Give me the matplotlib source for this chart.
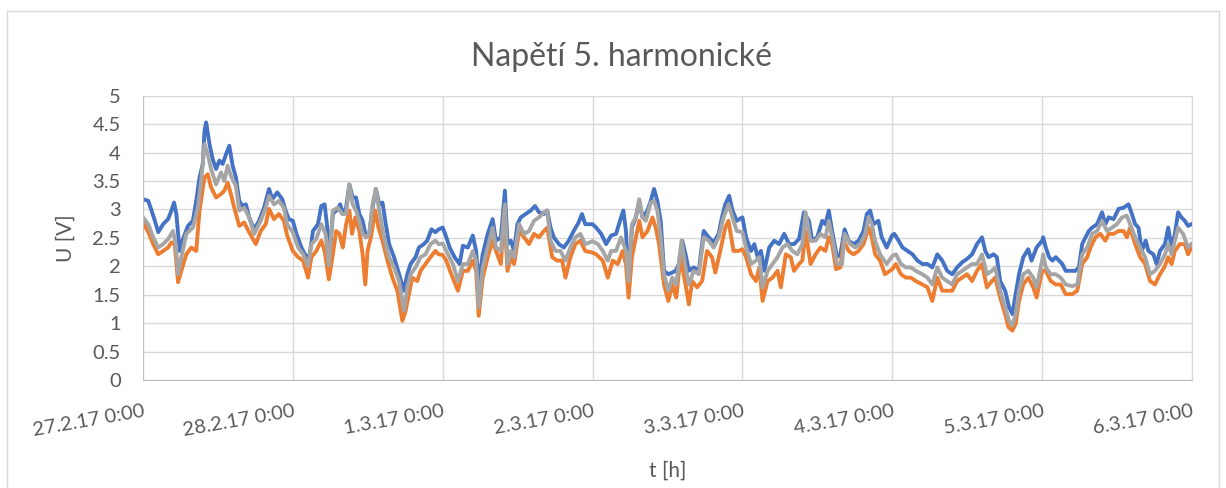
#Napětí 5. harmonické - průběh za týden
import matplotlib.pyplot as plt
from matplotlib.patches import Rectangle

# časy v hodinách od 27.2.17 0:00 a hodnoty napětí [V]
t_blue = [0, 0.85, 1.38, 1.91, 2.44, 3.23, 4.03, 4.56, 4.98, 5.35, 5.88, 6.41, 7.21, 8.0, 8.53, 9.06, 9.59, 9.85, 10.12, 10.65,
          11.18, 11.71, 12.24, 12.77, 13.3, 13.83, 14.36, 14.89, 15.42, 15.95, 16.48, 17.01, 17.8, 18.6, 19.39, 20.19, 20.72, 21.51, 22.3, 22.83, 23.36,
          24, 24.58, 25.38, 26.17, 26.7, 27.23, 28.03, 28.56, 29.09, 29.46, 29.88, 30.41, 31.21, 31.58, 32.0, 32.53, 33.06, 33.59, 34.12, 34.65,
          35.18, 35.71, 36.24, 36.77, 37.3, 37.83, 38.36, 38.89, 39.42, 40.21, 41.01, 41.8, 42.33, 42.86, 43.66, 44.19, 44.98, 45.51, 46.2, 46.83, 47.36,
          48, 48.58, 49.11, 49.91, 50.7, 51.23, 52.03, 52.82, 53.35, 53.77, 54.41, 55.21, 56.0, 56.53, 57.32, 57.96, 58.38, 58.91, 59.44, 59.97,
          60.5, 61.3, 62.09, 62.78, 63.42, 64.21, 64.74, 65.27, 65.8, 66.6, 67.39, 68.19, 68.98, 69.77, 70.3, 70.83,
          72, 72.58, 73.38, 74.17, 74.97, 75.76, 76.56, 76.93, 77.35, 77.77, 78.3, 78.94, 79.47, 80.0, 80.79, 81.32, 81.85, 82.38, 82.91, 83.44,
          84.13, 84.77, 85.3, 85.83, 86.36, 86.89, 87.42, 88.21, 89.01, 89.8, 90.6, 91.39, 92.19, 92.72, 93.25, 93.88, 94.41, 95.1,
          96, 96.58, 97.38, 97.91, 98.44, 98.97, 99.5, 100.29, 101.09, 101.88, 102.68, 103.47, 104.26, 105.06, 105.85, 106.65, 107.18, 107.97,
          108.77, 109.3, 109.83, 110.36, 111.15, 111.68, 112.37, 113.01, 113.8, 114.6, 115.39, 115.92, 116.45, 116.98, 117.77, 118.3, 119.1,
          120, 120.32, 120.85, 121.64, 122.44, 123.23, 124.03, 124.82, 125.62, 126.41, 127.21, 128.0, 128.79, 129.59, 130.38, 131.18, 131.97,
          132.77, 133.56, 134.36, 134.89, 135.42, 136.21, 136.74, 137.27, 138.07, 138.7, 139.23, 139.66, 140.29, 140.98, 141.77, 142.3, 143.1,
          144, 144.16, 144.58, 145.11, 145.64, 146.17, 146.7, 147.23, 147.76, 148.56, 149.35, 149.88, 150.41, 150.94, 151.47, 152.0, 152.79,
          153.59, 154.12, 154.65, 155.44, 156.24, 157.03, 157.83, 158.36, 158.89, 159.42, 159.95, 160.58, 161.01, 161.8, 162.33, 162.86,
          163.66, 164.19, 164.72, 165.25, 165.77, 166.3, 166.83, 167.36, 167.89]
u_blue = [3.18, 3.15, 2.98, 2.80, 2.60, 2.74, 2.83, 2.98, 3.12, 2.92, 2.27, 2.48, 2.71, 2.80, 3.15, 3.56, 3.80, 4.38, 4.53, 4.15,
          3.88, 3.71, 3.86, 3.80, 3.97, 4.12, 3.77, 3.56, 3.15, 3.06, 3.09, 2.86, 2.65, 2.80, 3.03, 3.36, 3.18, 3.30, 3.18, 2.98, 2.83,
          2.80, 2.57, 2.33, 2.16, 2.21, 2.62, 2.74, 3.06, 3.09, 2.74, 2.16, 2.92, 3.01, 3.09, 2.92, 3.03, 3.44, 3.21, 3.21, 2.92,
          2.80, 2.51, 2.57, 3.03, 3.36, 3.09, 3.12, 2.74, 2.39, 2.16, 1.86, 1.57, 1.86, 2.04, 2.16, 2.33, 2.39, 2.45, 2.65, 2.60, 2.65,
          2.68, 2.51, 2.33, 2.16, 2.04, 2.36, 2.33, 2.54, 2.27, 1.69, 2.21, 2.57, 2.83, 2.45, 2.51, 3.33, 2.39, 2.45, 2.27, 2.74,
          2.86, 2.92, 2.98, 3.06, 2.95, 2.92, 2.98, 2.68, 2.51, 2.39, 2.33, 2.45, 2.62, 2.77, 2.92, 2.74,
          2.74, 2.68, 2.57, 2.39, 2.54, 2.57, 2.86, 2.98, 2.62, 1.69, 2.68, 2.86, 3.15, 2.86, 2.98, 3.15, 3.36, 3.15, 2.80, 1.92,
          1.86, 1.89, 1.92, 2.04, 2.45, 2.21, 1.92, 1.98, 1.92, 2.62, 2.51, 2.42, 2.57, 2.86, 3.09, 3.24, 2.98, 2.80,
          2.86, 2.51, 2.27, 2.39, 2.16, 2.27, 1.92, 2.33, 2.45, 2.39, 2.57, 2.39, 2.39, 2.48, 2.95, 2.80, 2.45, 2.51,
          2.80, 2.74, 2.98, 2.62, 2.16, 2.21, 2.65, 2.45, 2.39, 2.45, 2.62, 2.92, 2.98, 2.74, 2.80, 2.51, 2.33,
          2.55, 2.57, 2.48, 2.33, 2.27, 2.21, 2.10, 2.04, 2.04, 1.98, 2.21, 2.10, 1.92, 1.86, 1.98, 2.07, 2.13,
          2.21, 2.39, 2.51, 2.27, 2.16, 2.21, 2.16, 1.74, 1.57, 1.28, 1.16, 1.45, 1.86, 2.16, 2.30, 2.10, 2.33,
          2.45, 2.51, 2.33, 2.16, 2.10, 2.16, 2.10, 2.04, 1.92, 1.92, 1.92, 1.98, 2.39, 2.51, 2.62, 2.68, 2.74,
          2.95, 2.74, 2.86, 2.83, 3.01, 3.03, 3.09, 2.92, 2.74, 2.68, 2.27, 2.45, 2.27, 2.21, 2.04, 2.27,
          2.39, 2.68, 2.33, 2.57, 2.95, 2.86, 2.80, 2.71, 2.74]

t_orange = [0, 0.85, 1.64, 2.44, 3.23, 4.03, 4.56, 5.09, 5.62, 6.15, 6.94, 7.74, 8.53, 9.06, 9.85, 10.38, 10.91, 11.71, 12.5, 13.03,
            13.56, 14.09, 14.62, 15.42, 16.21, 17.01, 18.07, 18.86, 19.66, 20.19, 20.98, 21.77, 22.57, 23.1,
            24, 24.85, 25.64, 26.44, 26.97, 27.76, 28.56, 29.09, 29.77, 30.41, 30.94, 31.47, 32.0, 32.53, 33.06, 33.48, 34.01, 34.65,
            35.18, 35.6, 35.97, 36.5, 37.19, 37.72, 38.36, 39.15, 39.95, 40.74, 41.54, 42.07, 42.6, 43.13, 43.92, 44.45, 45.25, 46.04, 46.83, 47.36,
            48, 48.58, 49.38, 50.44, 51.23, 52.03, 52.82, 53.35, 53.77, 54.41, 55.21, 56.0, 56.53, 57.32, 57.85, 58.38, 58.91, 59.44,
            60.24, 61.03, 61.83, 62.62, 63.42, 64.21, 64.74, 65.54, 66.33, 67.13, 67.66, 68.45, 69.25, 70.04, 70.83,
            72, 72.58, 73.64, 74.44, 75.23, 76.03, 76.82, 77.35, 77.77, 78.3, 78.94, 79.47, 80.0, 80.79, 81.59, 82.12, 82.65, 83.44,
            84.13, 84.77, 85.4, 86.09, 86.89, 87.42, 87.95, 88.74, 89.54, 90.33, 91.13, 91.66, 92.45, 93.25, 93.77, 94.57, 95.36,
            96, 96.58, 97.38, 98.17, 98.7, 99.23, 100.03, 100.82, 101.62, 102.15, 102.94, 103.74, 104.26, 105.06, 105.59, 106.12,
            106.91, 107.71, 108.5, 109.3, 109.83, 110.36, 110.99, 111.68, 112.21, 113.01, 113.8, 114.6, 115.39, 116.19, 116.72,
            117.25, 118.04, 118.83,
            120, 120.58, 121.38, 122.17, 122.97, 123.76, 124.82, 125.62, 126.41, 127.21, 128.0, 128.79, 129.59, 130.38, 131.18,
            131.97, 132.77, 133.56, 134.36, 135.15, 135.95, 136.48, 137.27, 138.07, 138.6, 139.23, 139.76, 140.29, 140.98, 141.77,
            142.57, 143.1,
            144, 144.58, 145.38, 146.17, 146.97, 147.76, 148.82, 149.62, 150.41, 151.21, 151.74, 152.53, 153.32, 154.12, 154.65,
            155.44, 156.24, 157.03, 157.56, 158.09, 158.89, 159.68, 160.48, 161.27, 162.07, 162.86, 163.55, 164.19, 164.72, 165.25,
            166.04, 166.83, 167.36, 167.89]
u_orange = [2.77, 2.60, 2.39, 2.21, 2.27, 2.33, 2.42, 2.39, 1.72, 1.92, 2.21, 2.33, 2.27, 2.98, 3.56, 3.62, 3.39, 3.21, 3.27, 3.33,
            3.47, 3.27, 3.03, 2.71, 2.77, 2.60, 2.39, 2.62, 2.74, 3.01, 2.83, 2.92, 2.80, 2.54,
            2.27, 2.16, 2.10, 1.80, 2.16, 2.27, 2.45, 2.27, 1.77, 2.21, 2.62, 2.57, 2.33, 2.74, 2.98, 2.57, 2.86, 2.62,
            2.21, 1.68, 2.27, 2.51, 2.98, 2.68, 2.45, 2.10, 1.80, 1.57, 1.04, 1.22, 1.51, 1.80, 1.74, 1.92, 2.04, 2.16, 2.27, 2.21,
            2.20, 2.10, 1.86, 1.57, 1.92, 1.92, 2.10, 1.92, 1.13, 1.80, 2.16, 2.45, 2.27, 2.04, 2.98, 1.92, 2.16, 2.04,
            2.62, 2.51, 2.39, 2.57, 2.51, 2.62, 2.68, 2.16, 2.10, 2.10, 1.80, 2.16, 2.39, 2.45, 2.27,
            2.24, 2.21, 2.10, 1.80, 2.10, 2.04, 2.27, 2.04, 1.45, 2.16, 2.51, 2.80, 2.51, 2.62, 2.86, 2.68, 2.39, 1.68,
            1.39, 1.68, 1.45, 2.16, 1.68, 1.33, 1.74, 1.63, 1.74, 2.27, 2.16, 1.89, 2.27, 2.68, 2.80, 2.27, 2.27,
            2.30, 2.16, 1.86, 1.74, 1.98, 1.39, 1.74, 1.80, 1.92, 1.63, 2.21, 2.16, 1.92, 2.04, 2.10, 2.62,
            2.04, 2.21, 2.33, 2.27, 2.51, 2.39, 1.95, 1.98, 2.45, 2.27, 2.21, 2.27, 2.39, 2.68, 2.51,
            2.21, 2.10, 1.86,
            1.95, 2.04, 1.86, 1.80, 1.80, 1.74, 1.68, 1.63, 1.39, 1.80, 1.57, 1.57, 1.57, 1.74, 1.80,
            1.86, 1.74, 1.92, 2.04, 1.63, 1.74, 1.80, 1.45, 1.16, 0.93, 0.87, 0.99, 1.39, 1.68, 1.80,
            1.63, 1.45,
            1.92, 1.92, 1.74, 1.68, 1.68, 1.51, 1.51, 1.57, 2.04, 2.16, 2.33, 2.51, 2.57, 2.45, 2.57,
            2.57, 2.62, 2.62, 2.51, 2.68, 2.39, 2.16, 2.04, 1.74, 1.68, 1.86, 1.98, 2.16, 2.04, 2.27,
            2.39, 2.39, 2.21, 2.33]

t_gray = [0, 0.85, 1.64, 2.44, 3.23, 4.03, 4.82, 5.25, 5.62, 6.15, 6.94, 8.0, 8.79, 9.32, 9.85, 10.38, 10.91, 11.71, 12.5, 13.03,
          13.56, 14.09, 14.89, 15.42, 16.21, 17.01, 17.8, 18.86, 19.66, 20.19, 20.98, 21.77, 22.57, 23.1,
          24, 24.85, 25.64, 26.44, 26.97, 27.76, 28.56, 29.25, 29.77, 30.41, 31.21, 31.9, 32.53, 33.06, 33.59, 34.12, 34.65,
          35.18, 35.71, 36.24, 36.77, 37.3, 37.83, 38.62, 39.42, 40.21, 41.01, 41.8, 42.33, 42.86, 43.66, 44.45, 45.25, 46.04, 46.83, 47.36,
          48, 48.85, 49.64, 50.44, 51.23, 52.03, 52.82, 53.35, 53.77, 54.41, 55.21, 56.0, 56.53, 57.32, 57.96, 58.38, 58.91, 59.44,
          60.24, 61.03, 61.83, 62.62, 63.42, 64.21, 64.74, 65.27, 66.07, 66.86, 67.66, 68.45, 69.25, 70.04, 70.83,
          72, 72.85, 73.64, 74.44, 74.97, 75.76, 76.56, 77.35, 77.77, 78.3, 78.94, 79.47, 80.0, 80.53, 81.32, 81.85, 82.38, 82.91,
          83.44, 84.13, 84.77, 85.4, 86.25, 86.89, 87.42, 88.21, 89.01, 89.8, 90.6, 91.39, 92.19, 92.98, 93.77, 94.41, 95.1,
          96, 96.58, 97.38, 98.17, 98.7, 99.23, 100.03, 100.82, 101.62, 102.41, 103.21, 104.0, 104.79, 105.59, 106.12, 106.91,
          107.71, 108.5, 109.3, 109.83, 110.36, 111.15, 111.95, 112.37, 113.27, 114.07, 114.86, 115.66, 116.19, 116.72, 117.25,
          118.04, 119.1,
          120, 120.58, 121.38, 122.17, 122.97, 123.76, 124.82, 125.62, 126.41, 127.21, 128.0, 128.79, 129.59, 130.38, 131.18,
          131.97, 132.77, 133.56, 134.36, 135.15, 135.95, 136.48, 137.27, 138.07, 138.7, 139.23, 139.76, 140.29, 140.98, 141.77,
          142.57, 143.1,
          144, 144.16, 144.58, 145.38, 146.17, 146.97, 147.76, 148.82, 149.62, 150.41, 151.21, 152.0, 152.79, 153.59, 154.38,
          155.18, 155.97, 156.77, 157.56, 158.09, 158.89, 159.68, 160.48, 161.27, 162.07, 162.86, 163.66, 164.19, 164.72, 165.25,
          165.77, 166.57, 167.36, 167.89]
u_gray = [2.86, 2.74, 2.51, 2.33, 2.39, 2.48, 2.62, 2.39, 1.86, 2.16, 2.57, 2.68, 3.03, 3.50, 4.15, 3.97, 3.71, 3.44, 3.65, 3.50,
          3.77, 3.59, 3.41, 2.98, 3.03, 2.86, 2.57, 2.80, 3.03, 3.24, 3.09, 3.15, 3.03, 2.74,
          2.60, 2.33, 2.21, 2.01, 2.39, 2.48, 2.74, 2.57, 2.01, 2.98, 3.03, 2.92, 2.92, 3.44, 3.09, 2.98, 2.80,
          2.57, 2.51, 2.57, 3.09, 3.36, 2.98, 2.51, 2.16, 1.98, 1.74, 1.22, 1.63, 1.86, 1.98, 2.16, 2.21, 2.39, 2.45, 2.39,
          2.40, 2.21, 2.04, 1.74, 2.04, 2.04, 2.27, 2.10, 1.28, 1.98, 2.33, 2.68, 2.33, 2.27, 3.09, 2.04, 2.27, 2.16,
          2.74, 2.57, 2.62, 2.80, 2.86, 2.95, 2.98, 2.45, 2.27, 2.27, 2.10, 2.33, 2.51, 2.57, 2.39,
          2.44, 2.39, 2.27, 2.10, 2.27, 2.27, 2.51, 2.27, 1.74, 2.74, 2.86, 3.18, 2.86, 2.80, 3.12, 3.15, 2.98, 2.51,
          1.86, 1.57, 1.80, 1.68, 2.45, 1.98, 1.68, 1.92, 1.86, 2.51, 2.45, 2.33, 2.51, 2.86, 3.09, 2.86, 2.62,
          2.60, 2.33, 2.04, 2.10, 2.16, 1.63, 1.92, 2.04, 2.16, 2.33, 2.39, 2.27, 2.21, 2.39, 2.95, 2.45,
          2.45, 2.57, 2.51, 2.80, 2.51, 2.04, 2.04, 2.57, 2.39, 2.33, 2.39, 2.57, 2.86, 2.74, 2.45,
          2.21, 2.04,
          2.18, 2.21, 2.04, 1.98, 1.98, 1.92, 1.86, 1.80, 1.68, 1.98, 1.80, 1.74, 1.68, 1.86, 1.92,
          1.98, 2.04, 2.04, 2.21, 1.86, 1.92, 1.98, 1.57, 1.28, 1.04, 0.96, 1.16, 1.57, 1.86, 1.92,
          1.80, 1.63,
          2.10, 2.21, 1.98, 1.86, 1.86, 1.80, 1.68, 1.65, 1.68, 2.21, 2.33, 2.57, 2.62, 2.80, 2.62,
          2.68, 2.74, 2.86, 2.89, 2.74, 2.51, 2.33, 2.16, 1.86, 1.92, 2.04, 2.21, 2.39, 2.21, 2.45,
          2.68, 2.57, 2.33, 2.39]

day_ticks = [0, 24, 48, 72, 96, 120, 144, 168]
day_labels = ["27.2.17 0:00", "28.2.17 0:00", "1.3.17 0:00", "2.3.17 0:00",
              "3.3.17 0:00", "4.3.17 0:00", "5.3.17 0:00", "6.3.17 0:00"]
u_ticks = [0, 0.5, 1, 1.5, 2, 2.5, 3, 3.5, 4, 4.5, 5]
u_labels = ["0", "0.5", "1", "1.5", "2", "2.5", "3", "3.5", "4", "4.5", "5"]

plt.rcParams["font.family"] = ["Lato", "DejaVu Sans"]
text_color = "#595959"

fig = plt.figure(figsize=(12.26, 4.88), dpi=100)
ax = fig.add_axes([0.1166, 0.2213, 0.8557, 0.5826])

# rámeček grafu
fig.patches.append(Rectangle((7 / 1226, -0.1), 1212 / 1226, 1.1 - 11 / 488, transform=fig.transFigure,
                             fill=False, edgecolor="#D9D9D9", linewidth=1))

ax.plot(t_blue, u_blue, color="#4472C4", linewidth=2.8, solid_joinstyle="round")
ax.plot(t_orange, u_orange, color="#ED7D31", linewidth=2.8, solid_joinstyle="round")
ax.plot(t_gray, u_gray, color="#A5A5A5", linewidth=2.8, solid_joinstyle="round")

ax.set_xlim(0, 168)
ax.set_ylim(0, 5)
ax.set_xticks(day_ticks)
ax.set_xticklabels(day_labels, rotation=10, ha="right", rotation_mode="anchor")
ax.set_yticks(u_ticks)
ax.set_yticklabels(u_labels)
ax.tick_params(length=0, labelsize=14.5, colors=text_color)
ax.tick_params(axis="y", pad=16)
ax.tick_params(axis="x", pad=16)
ax.grid(True, color="#D9D9D9", linewidth=1)
ax.set_axisbelow(True)
for s in ax.spines.values():
    s.set_color("#D9D9D9")
ax.spines["left"].set_color("#BFBFBF")
ax.spines["bottom"].set_color("#BFBFBF")

fig.text(0.507, 0.883, "Napětí 5. harmonické", fontsize=23, color=text_color, ha="center", va="center")
ax.set_ylabel("U [V]", fontsize=15, color=text_color, labelpad=12)
ax.set_xlabel("t [h]", fontsize=15, color=text_color, labelpad=16)

plt.savefig("out.png", dpi=100)
